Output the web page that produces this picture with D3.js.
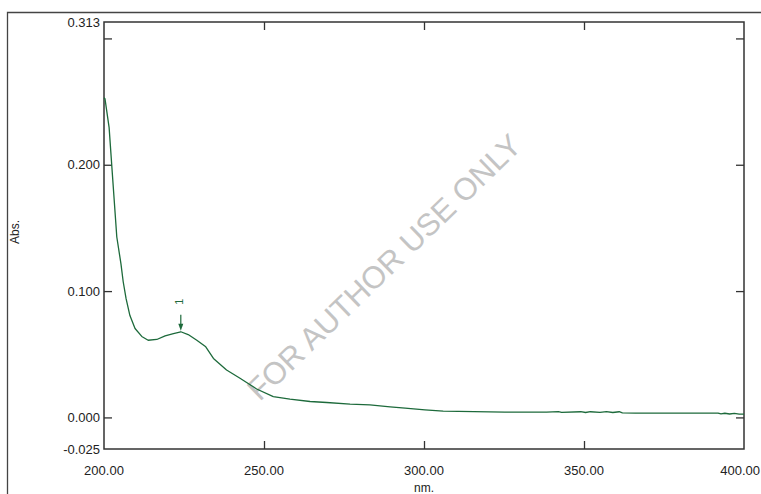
<!DOCTYPE html>
<html>
<head>
<meta charset="utf-8">
<script src="https://cdn.jsdelivr.net/npm/d3@7"></script>
<style>
  html, body { margin: 0; padding: 0; background: #fff; }
  svg { display: block; }
  text { font-family: "Liberation Sans", Arial, sans-serif; }
</style>
</head>
<body>
<svg id="chart" width="761" height="494"></svg>
<script>
// UV spectrum: wavelength (nm) vs absorbance
const wavelength = [200.0, 200.3, 201.6, 202.4, 204.0, 205.3, 206.0, 206.9, 208.1, 209.7,
  211.8, 213.8, 216.5, 219.1, 221.7, 224.0, 226.3, 229.0, 231.8, 234.2,
  238.3, 242.5, 247.7, 252.9, 258.1, 264.4, 269.6, 276.9, 283.1, 289.4,
  294.1, 300.3, 306.0, 325.3, 338.3, 342.0, 343.0, 349.0, 350.5, 352.0,
  355.0, 357.0, 359.0, 361.0, 362.0, 366.0, 380.0, 391.9, 392.8, 394.0,
  395.5, 397.0, 398.5, 400.0];
const absorbance = [0.2530, 0.2523, 0.2294, 0.2003, 0.1428, 0.1216, 0.1074, 0.0940, 0.0806, 0.0704,
  0.0641, 0.0611, 0.0617, 0.0646, 0.0664, 0.0678, 0.0656, 0.0611, 0.0559, 0.0467,
  0.0375, 0.0310, 0.0225, 0.0165, 0.0144, 0.0126, 0.0118, 0.0105, 0.0099, 0.0084,
  0.0073, 0.0060, 0.0050, 0.0042, 0.0042, 0.0046, 0.0040, 0.0045, 0.0039, 0.0045,
  0.0040, 0.0046, 0.0039, 0.0045, 0.0036, 0.0034, 0.0034, 0.0034, 0.0028, 0.0033,
  0.0027, 0.0032, 0.0026, 0.0026];

// Axis ticks and labels
const xTickValues = [250, 300, 350];
const xLabelValues = [200, 250, 300, 350, 400];
const yTickValues = [0.3, 0.2, 0.1, 0.0];
const yLabelValues = [0.313, 0.2, 0.1, 0.0, -0.025];

// Picked peak
const peakWavelength = [224.0];
const peakAbsorbance = [0.0678];
const peakLabels = ["1"];

const W = 761, H = 494;
const svg = d3.select("#chart");
const plot = { left: 104, top: 22, right: 744, bottom: 449 };

const x = d3.scaleLinear().domain([200, 400]).range([plot.left, plot.right]);
const y = d3.scaleLinear().domain([-0.025, 0.313]).range([plot.bottom, plot.top]);

const frameColor = "#333";
const lineColor = "#1d6a3b";

// Outer window frame (left and top edges)
svg.append("path")
  .attr("d", `M7.5,${H} L7.5,12.5 L${W},12.5`)
  .attr("fill", "none").attr("stroke", "#444").attr("stroke-width", 1.3);

// Plot frame
svg.append("rect")
  .attr("x", plot.left).attr("y", plot.top)
  .attr("width", plot.right - plot.left).attr("height", plot.bottom - plot.top)
  .attr("fill", "none").attr("stroke", frameColor).attr("stroke-width", 1.5);

// Inward ticks, using d3 axes with negative tick size
const tickLen = 8;
const axisStyle = g => {
  g.select(".domain").remove();
  g.selectAll("text").remove();
  g.selectAll("line").attr("stroke", frameColor).attr("stroke-width", 1.3);
};
svg.append("g").attr("transform", `translate(0,${plot.bottom})`)
  .call(d3.axisBottom(x).tickValues(xTickValues).tickSize(-tickLen)).call(axisStyle);
svg.append("g").attr("transform", `translate(0,${plot.top})`)
  .call(d3.axisTop(x).tickValues(xTickValues).tickSize(-tickLen)).call(axisStyle);
svg.append("g").attr("transform", `translate(${plot.left},0)`)
  .call(d3.axisLeft(y).tickValues(yTickValues).tickSize(-tickLen)).call(axisStyle);
svg.append("g").attr("transform", `translate(${plot.right},0)`)
  .call(d3.axisRight(y).tickValues(yTickValues).tickSize(-tickLen)).call(axisStyle);

// Tick labels (plain hyphen for negatives)
svg.append("g").selectAll("text").data(yLabelValues).join("text")
  .attr("x", plot.left - 4).attr("y", d => y(d)).attr("dy", "0.35em")
  .attr("text-anchor", "end").attr("font-size", 13).attr("fill", "#222")
  .text(d => d.toFixed(3));
const xLabels = svg.append("g").selectAll("text").data(xLabelValues).join("text")
  .attr("x", d => x(d)).attr("y", 475)
  .attr("text-anchor", "middle").attr("font-size", 13).attr("fill", "#222")
  .text(d => d.toFixed(2));
// keep the last label inside the window
xLabels.each(function () {
  const b = this.getBBox();
  if (b.x + b.width > W - 1) {
    d3.select(this).attr("x", +d3.select(this).attr("x") - (b.x + b.width - (W - 1)));
  }
});

// Axis titles
svg.append("text").attr("x", plot.left + (plot.right - plot.left) / 2).attr("y", 492)
  .attr("text-anchor", "middle").attr("font-size", 12).attr("fill", "#222").text("nm.");
svg.append("text").attr("transform", "translate(19,232) rotate(-90)")
  .attr("text-anchor", "middle").attr("font-size", 12).attr("fill", "#222").text("Abs.");

// Watermark
svg.append("text").attr("transform", "translate(384,267) rotate(-44)")
  .attr("text-anchor", "middle").attr("dy", "0.35em")
  .attr("font-size", 31).attr("fill", "#c4c4c4").text("FOR AUTHOR USE ONLY");

// Spectrum line
const line = d3.line().x((d, i) => x(wavelength[i])).y(d => y(d));
svg.append("path").datum(absorbance)
  .attr("d", line).attr("fill", "none")
  .attr("stroke", lineColor).attr("stroke-width", 1.3).attr("stroke-linejoin", "round");

// Peak marker: arrow down onto the curve with a rotated label
const peaks = svg.append("g").selectAll("g").data(peakWavelength).join("g");
peaks.append("line")
  .attr("x1", d => x(d)).attr("x2", d => x(d))
  .attr("y1", (d, i) => y(peakAbsorbance[i]) - 17)
  .attr("y2", (d, i) => y(peakAbsorbance[i]) - 6)
  .attr("stroke", lineColor).attr("stroke-width", 1.2);
peaks.append("path")
  .attr("d", (d, i) => {
    const px = x(d), py = y(peakAbsorbance[i]);
    return `M${px - 2.5},${py - 8} L${px + 2.5},${py - 8} L${px},${py - 1} Z`;
  })
  .attr("fill", lineColor);
peaks.append("text")
  .attr("transform", (d, i) => `translate(${x(d) - 2},${y(peakAbsorbance[i]) - 30}) rotate(-90)`)
  .attr("text-anchor", "middle").attr("dy", "0.35em")
  .attr("font-size", 11).attr("fill", lineColor)
  .text((d, i) => peakLabels[i]);
</script>
</body>
</html>
